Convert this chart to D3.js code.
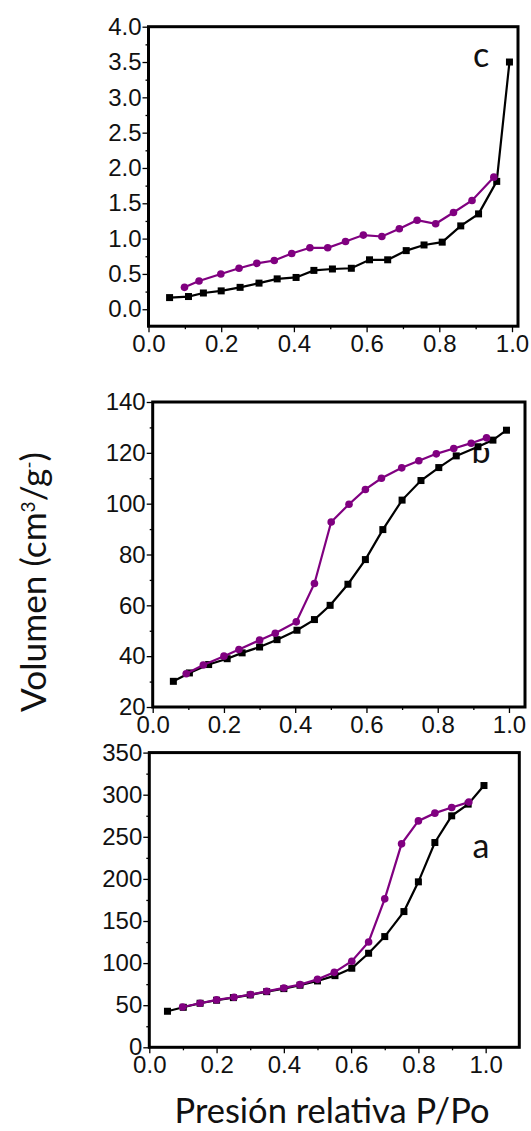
<!DOCTYPE html>
<html><head><meta charset="utf-8">
<script src="https://cdn.jsdelivr.net/npm/d3@7"></script>
<style>body{margin:0;background:#fff}svg{display:block}</style>
</head><body><svg id="chart" width="531" height="1131"></svg>
<script>
// ---------- data ----------
const xTickValues = [0, 0.2, 0.4, 0.6, 0.8, 1.0];

// panel c
const cAdsX = [0.058,0.110,0.151,0.200,0.252,0.304,0.354,0.406,0.455,0.506,0.558,0.608,0.658,0.709,0.758,0.808,0.859,0.908,0.958,0.993];
const cAdsY = [0.165,0.18,0.23,0.26,0.31,0.37,0.43,0.45,0.55,0.57,0.58,0.70,0.70,0.83,0.91,0.95,1.18,1.35,1.81,3.50];
const cDesX = [0.099,0.139,0.199,0.249,0.298,0.346,0.394,0.444,0.493,0.542,0.591,0.642,0.690,0.739,0.790,0.839,0.890,0.950];
const cDesY = [0.31,0.40,0.50,0.58,0.65,0.69,0.79,0.87,0.87,0.96,1.05,1.03,1.14,1.26,1.21,1.37,1.54,1.87];
const cYTicks = [0.0,0.5,1.0,1.5,2.0,2.5,3.0,3.5,4.0];

// panel b
const bAdsX = [0.058,0.103,0.157,0.209,0.251,0.300,0.349,0.405,0.454,0.498,0.548,0.597,0.646,0.700,0.753,0.803,0.852,0.913,0.955,0.993];
const bAdsY = [30.1,33.4,36.7,39.0,41.3,43.6,46.5,50.2,54.4,60.0,68.3,78.0,89.8,101.4,109.1,114.2,118.8,122.4,125.0,128.9];
const bDesX = [0.094,0.142,0.200,0.242,0.300,0.344,0.403,0.454,0.501,0.551,0.597,0.642,0.699,0.747,0.796,0.845,0.894,0.937];
const bDesY = [33.1,36.5,40.0,42.6,46.3,49.0,53.5,68.6,92.8,99.8,105.6,110.0,114.1,116.9,119.6,121.7,123.8,125.9];
const bYTicks = [20,40,60,80,100,120,140];

// panel a
const aAdsX = [0.054,0.101,0.151,0.200,0.250,0.300,0.349,0.400,0.448,0.500,0.552,0.602,0.652,0.700,0.757,0.800,0.849,0.899,0.948,0.995];
const aAdsY = [42.8,47.5,52.3,55.9,59.0,62.2,66.1,69.7,73.7,78.8,85.1,93.9,111.7,131.5,161.2,196.5,243.2,274.9,288.8,310.9];
const aDesX = [0.099,0.151,0.200,0.252,0.301,0.349,0.400,0.448,0.500,0.550,0.602,0.652,0.700,0.750,0.800,0.849,0.899,0.950];
const aDesY = [47.9,52.3,56.3,59.4,62.6,66.5,70.5,74.4,80.7,89.0,102.2,125.1,176.3,241.6,268.9,278.1,284.8,291.2];
const aYTicks = [0,50,100,150,200,250,300,350];

const panelLabels = ["c", "b", "a"];
const yTitle = ["Volumen (cm", "3", "/g", "-", ")"];
const xTitle = "Presión relativa P/Po";

// ---------- layout ----------
const svg = d3.select("#chart");
const tickFont = "Liberation Sans, Arial, sans-serif";
const titleFont = "Lato, 'Open Sans', sans-serif";
const purple = "#800080";

// clip that hides the top of the "b" label (as in the reference)
svg.append("defs").append("clipPath").attr("id", "bclip")
  .append("rect").attr("x", 440).attr("y", 448).attr("width", 80).attr("height", 40);

const panels = [
  {label: panelLabels[0], xd: [0, 1.0165], xr: [148.5, 518], yd: [-0.24, 4.0], yr: [326.2, 26.7],
   yTicks: cYTicks, yMinor: d3.range(0.25, 4.0, 0.5), fmt: d3.format(".1f"),
   ads: [cAdsX, cAdsY], des: [cDesX, cDesY], lab: [481, 67], clip: null},
  {label: panelLabels[1], xd: [0, 1.045], xr: [152.7, 525], yd: [20, 140], yr: [707, 402],
   yTicks: bYTicks, yMinor: d3.range(30, 140, 20), fmt: d3.format("d"),
   ads: [bAdsX, bAdsY], des: [bDesX, bDesY], lab: [481, 463], clip: "url(#bclip)"},
  {label: panelLabels[2], xd: [0, 1.1], xr: [149.3, 519.3], yd: [0, 350], yr: [1047.3, 752.6],
   yTicks: aYTicks, yMinor: d3.range(25, 350, 50), fmt: d3.format("d"),
   ads: [aAdsX, aAdsY], des: [aDesX, aDesY], lab: [481, 858], clip: null}
];

panels.forEach((p, i) => {
  const x = d3.scaleLinear().domain(p.xd).range(p.xr);
  const y = d3.scaleLinear().domain(p.yd).range(p.yr);
  const g = svg.append("g");
  const x0 = p.xr[0], x1 = p.xr[1], yb = p.yr[0], yt = p.yr[1];

  // axes (ticks outward)
  const yAx = g.append("g").attr("transform", `translate(${x0},0)`)
    .call(d3.axisLeft(y).tickValues(p.yTicks).tickFormat(p.fmt).tickSize(6).tickSizeOuter(0).tickPadding(1));
  const yMin = g.append("g").attr("transform", `translate(${x0},0)`)
    .call(d3.axisLeft(y).tickValues(p.yMinor).tickFormat("").tickSize(3).tickSizeOuter(0));
  const xAx = g.append("g").attr("transform", `translate(0,${yb})`)
    .call(d3.axisBottom(x).tickValues(xTickValues).tickFormat(d3.format(".1f")).tickSize(6).tickSizeOuter(0).tickPadding(3));
  const xMin = g.append("g").attr("transform", `translate(0,${yb})`)
    .call(d3.axisBottom(x).tickValues([0.1,0.3,0.5,0.7,0.9]).tickFormat("").tickSize(3).tickSizeOuter(0));
  [yAx, yMin, xAx, xMin].forEach(a => {
    a.select(".domain").remove();
    a.selectAll("line").attr("stroke", "#000").attr("stroke-width", 1.3);
    a.selectAll("text").attr("font-family", tickFont).attr("font-size", 24).attr("fill", "#111");
  });

  // panel label
  const lt = g.append("text").attr("x", p.lab[0]).attr("y", p.lab[1]).attr("text-anchor", "middle")
    .attr("font-family", titleFont).attr("font-size", 34).attr("fill", "#111").text(p.label);
  if (p.clip) lt.attr("clip-path", p.clip);

  const line = d3.line().x(d => x(d[0])).y(d => y(d[1]));
  const ads = p.ads[0].map((v, k) => [v, p.ads[1][k]]);
  const des = p.des[0].map((v, k) => [v, p.des[1][k]]);

  g.append("path").datum(ads).attr("d", line).attr("fill", "none").attr("stroke", "#000").attr("stroke-width", 2.2);
  g.selectAll(".sq").data(ads).enter().append("rect")
    .attr("x", d => x(d[0]) - 3.5).attr("y", d => y(d[1]) - 3.5).attr("width", 7).attr("height", 7).attr("fill", "#000");

  g.append("path").datum(des).attr("d", line).attr("fill", "none").attr("stroke", purple).attr("stroke-width", 2.2);
  g.selectAll(".ci").data(des).enter().append("circle")
    .attr("cx", d => x(d[0])).attr("cy", d => y(d[1])).attr("r", 3.8).attr("fill", purple);

  // frame
  g.append("rect").attr("x", x0).attr("y", yt).attr("width", x1 - x0).attr("height", yb - yt)
    .attr("fill", "none").attr("stroke", "#000").attr("stroke-width", 3);
});

// y title
const yt = svg.append("text").attr("transform", "translate(46,582) rotate(-90)")
  .attr("text-anchor", "middle").attr("font-family", titleFont).attr("font-size", 30).attr("fill", "#111");
yt.append("tspan").text(yTitle[0]);
yt.append("tspan").attr("font-size", 19).attr("dy", -11).text(yTitle[1]);
yt.append("tspan").attr("dy", 11).text(yTitle[2]);
yt.append("tspan").attr("font-size", 19).attr("dy", -11).text(yTitle[3]);
yt.append("tspan").attr("dy", 11).text(yTitle[4]);
(function fit(el, target) {
  const len = el.node().getComputedTextLength();
  el.attr("font-size", 30 * target / len);
})(yt, 263);

// x title
const xt = svg.append("text").attr("x", 332).attr("y", 1123).attr("text-anchor", "middle")
  .attr("font-family", titleFont).attr("font-size", 32).attr("fill", "#111").text(xTitle);
const xl = xt.node().getComputedTextLength();
xt.attr("font-size", 32 * 315 / xl);
</script>
</body></html>
